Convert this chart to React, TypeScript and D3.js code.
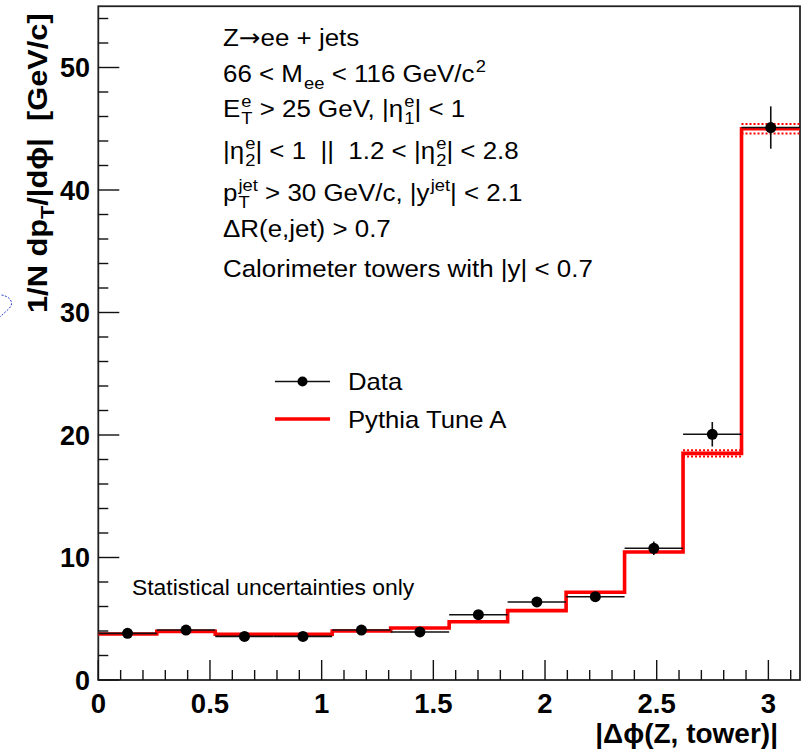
import React from "react";
import * as d3 from "d3";

// |Δφ(Z, tower)| bins: 12 equal bins from 0 to π
const BIN_EDGES = [0, 0.2618, 0.5236, 0.7854, 1.0472, 1.309, 1.5708, 1.8326, 2.0944, 2.3562, 2.618, 2.8798, 3.1416];
const DATA_VALUES = [3.81, 4.08, 3.56, 3.56, 4.08, 3.92, 5.33, 6.37, 6.8, 10.75, 20.06, 45.1];
const DATA_ERRORS = [0.15, 0.15, 0.15, 0.15, 0.15, 0.17, 0.2, 0.25, 0.3, 0.55, 1.0, 1.73];
const MC_VALUES = [3.75, 3.97, 3.73, 3.73, 4.0, 4.25, 4.76, 5.66, 7.16, 10.45, 18.5, 45.0];
const MC_ERRORS = [0.05, 0.05, 0.05, 0.05, 0.05, 0.05, 0.06, 0.07, 0.08, 0.12, 0.25, 0.38];

const X_TICKS = [0, 0.5, 1, 1.5, 2, 2.5, 3];
const X_TICK_LABELS = ["0", "0.5", "1", "1.5", "2", "2.5", "3"];
const Y_TICKS = [0, 10, 20, 30, 40, 50];
const Y_TICK_LABELS = ["0", "10", "20", "30", "40", "50"];

const LEGEND_LABELS = ["Data", "Pythia Tune A"];
const NOTE_TEXT = "Statistical uncertainties only";

type Seg = { t?: string; sup?: string; sub?: string; font?: string; size?: number };
const CUT_LINES: Seg[][] = [
  [{ t: "Z" }, { t: "\u2192", font: "'DejaVu Sans', sans-serif", size: 24 }, { t: "ee + jets" }],
  [{ t: "66 < M" }, { sub: "ee" }, { t: " < 116 GeV/c" }, { sup: "2" }],
  [{ t: "E" }, { sup: "e", sub: "T" }, { t: " > 25 GeV, |\u03B7" }, { sup: "e", sub: "1" }, { t: "| < 1" }],
  [{ t: "|\u03B7" }, { sup: "e", sub: "2" }, { t: "| < 1  ||  1.2 < |\u03B7" }, { sup: "e", sub: "2" }, { t: "| < 2.8" }],
  [{ t: "p" }, { sup: "jet", sub: "T" }, { t: " > 30 GeV/c, |y" }, { sup: "jet" }, { t: "| < 2.1" }],
  [{ t: "\u0394R(e,jet) > 0.7" }],
  [{ t: "Calorimeter towers with |y| < 0.7" }],
];
const CUT_BASELINES = [46, 82, 117, 159, 201, 237, 277];

const FONT = "'Liberation Sans', Arial, Helvetica, sans-serif";
const W = 806;
const H = 754;

let ctx: CanvasRenderingContext2D | null = null;
function measure(text: string, size: number, font = FONT, weight = "normal") {
  if (!ctx) ctx = document.createElement("canvas").getContext("2d");
  if (!ctx) return text.length * size * 0.55;
  ctx.font = `${weight} ${size}px ${font}`;
  return ctx.measureText(text).width;
}

function RichLine({ segs, x, y, size }: { segs: Seg[]; x: number; y: number; size: number }) {
  const small = Math.round(size * 0.7);
  const out: React.ReactNode[] = [];
  let cx = x;
  segs.forEach((s, i) => {
    if (s.t !== undefined) {
      const f = s.font || FONT;
      const sz = s.size || size;
      out.push(
        <text key={i} x={cx} y={y} fontSize={sz} fontFamily={f} style={{ whiteSpace: "pre" }}>
          {s.t}
        </text>
      );
      cx += measure(s.t, sz, f);
    } else {
      let w = 0;
      if (s.sup) {
        out.push(
          <text key={i + "u"} x={cx + 1} y={y - 10} fontSize={small}>
            {s.sup}
          </text>
        );
        w = Math.max(w, measure(s.sup, small) + 1);
      }
      if (s.sub) {
        out.push(
          <text key={i + "d"} x={cx + 1} y={y + 7} fontSize={small}>
            {s.sub}
          </text>
        );
        w = Math.max(w, measure(s.sub, small) + 1);
      }
      cx += w;
    }
  });
  return <g>{out}</g>;
}

// horizontal stretch anchored at a given x
const stretch = (ax: number, k: number) => `translate(${ax},0) scale(${k},1) translate(${-ax},0)`;

export default function App() {
  const x = d3.scaleLinear().domain([0, Math.PI]).range([98.3, 800]);
  const y = d3.scaleLinear().domain([0, 55]).range([680, 6.25]);

  const stepPts: [number, number][] = BIN_EDGES.map((e, i) => [
    e,
    MC_VALUES[Math.min(i, MC_VALUES.length - 1)],
  ]);
  const stepLine = d3
    .line<[number, number]>()
    .x((d) => x(d[0]))
    .y((d) => y(d[1]))
    .curve(d3.curveStepAfter);

  const xMinor = d3.range(0, 3.15, 0.1).filter((v) => Math.abs(v * 2 - Math.round(v * 2)) > 1e-6);
  const yMinor = d3.range(0, 55, 2).filter((v) => v % 10 !== 0);

  const x0 = x(0);
  const y0 = y(0);

  return (
    <div style={{ position: "absolute", left: 0, top: 0, width: W, height: H, background: "#fff" }}>
      <svg width={W} height={H} style={{ display: "block" }} fontFamily={FONT}>
        <rect x={0} y={0} width={W} height={H} fill="#fff" />

        {/* frame */}
        <rect x={x0} y={y(55)} width={x(Math.PI) - x0} height={y0 - y(55)} fill="none" stroke="#222" strokeWidth={1.8} />

        {/* x axis ticks */}
        {X_TICKS.map((t) => (
          <line key={"xt" + t} x1={x(t)} x2={x(t)} y1={y0} y2={y0 - 20} stroke="#111" strokeWidth={1.4} />
        ))}
        {xMinor.map((t) => (
          <line key={"xm" + t} x1={x(t)} x2={x(t)} y1={y0} y2={y0 - 10} stroke="#111" strokeWidth={1.4} />
        ))}
        {X_TICKS.map((t, i) => (
          <text key={"xl" + t} x={x(t)} y={713} fontSize={27.5} fontWeight="bold" textAnchor="middle">
            {X_TICK_LABELS[i]}
          </text>
        ))}

        {/* y axis ticks */}
        {Y_TICKS.map((t) => (
          <line key={"yt" + t} x1={x0} x2={x0 + 21} y1={y(t)} y2={y(t)} stroke="#111" strokeWidth={1.4} />
        ))}
        {yMinor.map((t) => (
          <line key={"ym" + t} x1={x0} x2={x0 + 10} y1={y(t)} y2={y(t)} stroke="#111" strokeWidth={1.4} />
        ))}
        {Y_TICKS.map((t, i) => (
          <text key={"yl" + t} x={90} y={y(t) + 9.7} fontSize={27} fontWeight="bold" textAnchor="end">
            {Y_TICK_LABELS[i]}
          </text>
        ))}

        {/* axis titles */}
        <text x={778} y={743} fontSize={28} fontWeight="bold" textAnchor="end">
          |{"\u0394\u03D5"}(Z, tower)|
        </text>
        <text transform="translate(47,313) rotate(-90) scale(1.14,1)" fontSize={27} fontWeight="bold" style={{ whiteSpace: "pre" }}>
          1/N dp
          <tspan fontSize={19} dy={7}>T</tspan>
          <tspan dy={-7}>{"/|d\u03D5|  [GeV/c]"}</tspan>
        </text>

        {/* MC uncertainty band edges */}
        {MC_VALUES.map((v, i) => {
          const e = MC_ERRORS[i];
          if (y(v - e) - y(v + e) < 5) return null;
          return (
            <g key={"mb" + i}>
              <line x1={x(BIN_EDGES[i])} x2={x(BIN_EDGES[i + 1])} y1={y(v + e)} y2={y(v + e)} stroke="#ff0000" strokeWidth={2} strokeDasharray="2,2" />
              <line x1={x(BIN_EDGES[i])} x2={x(BIN_EDGES[i + 1])} y1={y(v - e)} y2={y(v - e)} stroke="#ff0000" strokeWidth={2} strokeDasharray="2,2" />
            </g>
          );
        })}

        {/* MC histogram */}
        <path d={stepLine(stepPts) || ""} fill="none" stroke="#ff0000" strokeWidth={3.6} />

        {/* data points */}
        {DATA_VALUES.map((v, i) => {
          const cx = x((BIN_EDGES[i] + BIN_EDGES[i + 1]) / 2);
          return (
            <g key={"d" + i}>
              <line x1={x(BIN_EDGES[i])} x2={x(BIN_EDGES[i + 1])} y1={y(v)} y2={y(v)} stroke="#111" strokeWidth={1.6} />
              <line x1={cx} x2={cx} y1={y(v - DATA_ERRORS[i])} y2={y(v + DATA_ERRORS[i])} stroke="#111" strokeWidth={1.6} />
              <circle cx={cx} cy={y(v)} r={5.5} fill="#000" />
            </g>
          );
        })}

        {/* cuts */}
        <g transform={stretch(223, 1.08)}>
          {CUT_LINES.map((segs, i) => (
            <RichLine key={"c" + i} segs={segs} x={223} y={CUT_BASELINES[i]} size={24} />
          ))}
        </g>

        {/* legend */}
        <line x1={275} x2={330} y1={381.5} y2={381.5} stroke="#111" strokeWidth={1.6} />
        <circle cx={302.5} cy={381.5} r={5} fill="#000" />
        <line x1={275} x2={330} y1={419} y2={419} stroke="#ff0000" strokeWidth={3.6} />
        <g transform={stretch(348, 1.07)}>
          <text x={348} y={390} fontSize={24}>{LEGEND_LABELS[0]}</text>
          <text x={348} y={428} fontSize={24}>{LEGEND_LABELS[1]}</text>
        </g>

        <text x={132} y={595} fontSize={22} transform={stretch(132, 1.04)}>{NOTE_TEXT}</text>

        {/* pen mark at the left margin */}
        <path d="M1.5,295 C8,296 12,300 11.5,304 C11,308 6,311 0,317" fill="none" stroke="#2a3fd6" strokeWidth={1} strokeDasharray="2,1.5" />
      </svg>
    </div>
  );
}
